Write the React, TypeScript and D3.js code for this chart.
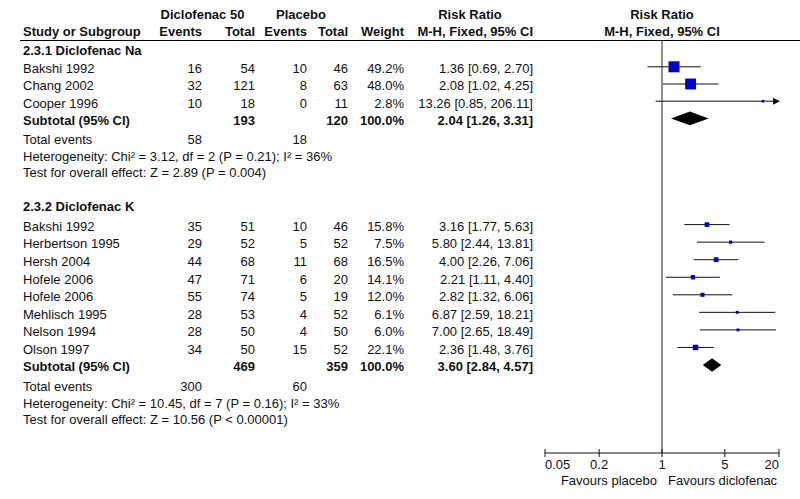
import React, { useEffect } from 'react';
import * as d3 from 'd3';

// subgroup 2.3.1 Diclofenac Na
const naStudies = ['Bakshi 1992', 'Chang 2002', 'Cooper 1996'];
const naEventsT = [16, 32, 10];
const naTotalT = [54, 121, 18];
const naEventsC = [10, 8, 0];
const naTotalC = [46, 63, 11];
const naWeight = [49.2, 48.0, 2.8];
const naRR = [1.36, 2.08, 13.26];
const naLo = [0.69, 1.02, 0.85];
const naHi = [2.70, 4.25, 206.11];

// subgroup 2.3.2 Diclofenac K
const kStudies = ['Bakshi 1992', 'Herbertson 1995', 'Hersh 2004', 'Hofele 2006', 'Hofele 2006', 'Mehlisch 1995', 'Nelson 1994', 'Olson 1997'];
const kEventsT = [35, 29, 44, 47, 55, 28, 28, 34];
const kTotalT = [51, 52, 68, 71, 74, 53, 50, 50];
const kEventsC = [10, 5, 11, 6, 5, 4, 4, 15];
const kTotalC = [46, 52, 68, 20, 19, 52, 50, 52];
const kWeight = [15.8, 7.5, 16.5, 14.1, 12.0, 6.1, 6.0, 22.1];
const kRR = [3.16, 5.80, 4.00, 2.21, 2.82, 6.87, 7.00, 2.36];
const kLo = [1.77, 2.44, 2.26, 1.11, 1.32, 2.59, 2.65, 1.48];
const kHi = [5.63, 13.81, 7.06, 4.40, 6.06, 18.21, 18.49, 3.76];

const subgroupTitles = ['2.3.1 Diclofenac Na', '2.3.2 Diclofenac K'];
const subTotalT = [193, 469];
const subTotalC = [120, 359];
const subRR = [2.04, 3.60];
const subLo = [1.26, 2.84];
const subHi = [3.31, 4.57];
const subEventsT = [58, 300];
const subEventsC = [18, 60];
const heterogeneity = [
  'Heterogeneity: Chi² = 3.12, df = 2 (P = 0.21); I² = 36%',
  'Heterogeneity: Chi² = 10.45, df = 7 (P = 0.16); I² = 33%',
];
const overallTest = [
  'Test for overall effect: Z = 2.89 (P = 0.004)',
  'Test for overall effect: Z = 10.56 (P < 0.00001)',
];

const axisTicks = [0.05, 0.2, 1, 5, 20];
const axisTickLabels = ['0.05', '0.2', '1', '5', '20'];

const FONT = '"Liberation Sans", Arial, sans-serif';

export default function App() {
  useEffect(() => {
    document.body.style.margin = '0';
  }, []);

  const x = d3.scaleLog().domain([0.05, 20]).range([545, 779]);
  // box area follows weight; the two subgroups are drawn at different scales
  const boxSize = [
    d3.scaleSqrt().domain([0, 100]).range([0, 15.7]),
    d3.scaleSqrt().domain([0, 100]).range([0, 11.7]),
  ];

  const col = { study: 23, evT: 202, totT: 255, evC: 307, totC: 348, weight: 404, rr: 533 };
  const rowStart = [66.8, 224.6];
  const rowStep = [17.2, 17.55];
  const titleBase = [55, 211];
  const footOffset = [25.8, 42.5, 58.5];
  const ty = 6.3; // text baseline below the marker row centre

  const groups = [
    { names: naStudies, evT: naEventsT, totT: naTotalT, evC: naEventsC, totC: naTotalC, w: naWeight, rr: naRR, lo: naLo, hi: naHi },
    { names: kStudies, evT: kEventsT, totT: kTotalT, evC: kEventsC, totC: kTotalC, w: kWeight, rr: kRR, lo: kLo, hi: kHi },
  ];

  const txt = (props: any, s: string | number, key?: string) => (
    <text key={key} fontFamily={FONT} fontSize={13} fill="#111" {...props}>{s}</text>
  );

  const [xmin, xmax] = x.range();

  return (
    <svg width={800} height={499} style={{ display: 'block', background: '#fff' }}>
      {/* header */}
      <g>
        {txt({ x: 202.5, y: 18.7, textAnchor: 'middle', fontWeight: 'bold' }, 'Diclofenac 50')}
        {txt({ x: 301, y: 18.7, textAnchor: 'middle', fontWeight: 'bold' }, 'Placebo')}
        {txt({ x: 470, y: 18.7, textAnchor: 'middle', fontWeight: 'bold' }, 'Risk Ratio')}
        {txt({ x: 662, y: 18.7, textAnchor: 'middle', fontWeight: 'bold' }, 'Risk Ratio')}
        {txt({ x: col.study, y: 36, fontWeight: 'bold' }, 'Study or Subgroup')}
        {txt({ x: col.evT, y: 36, textAnchor: 'end', fontWeight: 'bold' }, 'Events')}
        {txt({ x: col.totT, y: 36, textAnchor: 'end', fontWeight: 'bold' }, 'Total')}
        {txt({ x: col.evC, y: 36, textAnchor: 'end', fontWeight: 'bold' }, 'Events')}
        {txt({ x: col.totC, y: 36, textAnchor: 'end', fontWeight: 'bold' }, 'Total')}
        {txt({ x: col.weight, y: 36, textAnchor: 'end', fontWeight: 'bold' }, 'Weight')}
        {txt({ x: col.rr, y: 36, textAnchor: 'end', fontWeight: 'bold' }, 'M-H, Fixed, 95% CI')}
        {txt({ x: 662, y: 36, textAnchor: 'middle', fontWeight: 'bold' }, 'M-H, Fixed, 95% CI')}
      </g>
      <line x1={20} x2={800} y1={40.5} y2={40.5} stroke="#000" strokeWidth={1.2} />
      <line x1={x(1)} x2={x(1)} y1={40} y2={453} stroke="#222" strokeWidth={1} />

      {groups.map((g, gi) => {
        const studyY = (i: number) => rowStart[gi] + rowStep[gi] * i;
        const subY = studyY(g.names.length);
        const size = boxSize[gi];
        const xl = x(subLo[gi]);
        const xr = x(subHi[gi]);
        const xc = x(subRR[gi]);
        const dh = 6.8;
        return (
          <g key={gi}>
            {txt({ x: col.study, y: titleBase[gi], fontWeight: 'bold' }, subgroupTitles[gi])}
            {g.names.map((n, i) => {
              const cy = studyY(i);
              const by = cy + ty;
              const s = size(g.w[i]);
              const lo = Math.max(x(g.lo[i]), xmin);
              const hiClipped = g.hi[i] > 20;
              const hi = hiClipped ? xmax + 1 : x(g.hi[i]);
              return (
                <g key={i}>
                  {txt({ x: col.study, y: by }, n)}
                  {txt({ x: col.evT, y: by, textAnchor: 'end' }, g.evT[i])}
                  {txt({ x: col.totT, y: by, textAnchor: 'end' }, g.totT[i])}
                  {txt({ x: col.evC, y: by, textAnchor: 'end' }, g.evC[i])}
                  {txt({ x: col.totC, y: by, textAnchor: 'end' }, g.totC[i])}
                  {txt({ x: col.weight, y: by, textAnchor: 'end' }, g.w[i].toFixed(1) + '%')}
                  {txt({ x: col.rr, y: by, textAnchor: 'end' },
                    `${g.rr[i].toFixed(2)} [${g.lo[i].toFixed(2)}, ${g.hi[i].toFixed(2)}]`)}
                  <line x1={lo} x2={hiClipped ? hi - 6 : hi} y1={cy} y2={cy} stroke="#111" strokeWidth={1} />
                  {hiClipped && (
                    <path d={`M${hi - 7},${cy - 3.5}L${hi},${cy}L${hi - 7},${cy + 3.5}Z`} fill="#111" />
                  )}
                  <rect x={x(g.rr[i]) - s / 2} y={cy - s / 2} width={s} height={Math.max(s, 1.5)} fill="#0000c4" />
                </g>
              );
            })}
            {txt({ x: col.study, y: subY + ty, fontWeight: 'bold' }, 'Subtotal (95% CI)')}
            {txt({ x: col.totT, y: subY + ty, textAnchor: 'end', fontWeight: 'bold' }, subTotalT[gi])}
            {txt({ x: col.totC, y: subY + ty, textAnchor: 'end', fontWeight: 'bold' }, subTotalC[gi])}
            {txt({ x: col.weight, y: subY + ty, textAnchor: 'end', fontWeight: 'bold' }, '100.0%')}
            {txt({ x: col.rr, y: subY + ty, textAnchor: 'end', fontWeight: 'bold' },
              `${subRR[gi].toFixed(2)} [${subLo[gi].toFixed(2)}, ${subHi[gi].toFixed(2)}]`)}
            <path d={`M${xl},${subY}L${xc},${subY - dh}L${xr},${subY}L${xc},${subY + dh}Z`} fill="#000" />
            {txt({ x: col.study, y: subY + footOffset[0] }, 'Total events')}
            {txt({ x: col.evT, y: subY + footOffset[0], textAnchor: 'end' }, subEventsT[gi])}
            {txt({ x: col.evC, y: subY + footOffset[0], textAnchor: 'end' }, subEventsC[gi])}
            {txt({ x: col.study, y: subY + footOffset[1] }, heterogeneity[gi])}
            {txt({ x: col.study, y: subY + footOffset[2] }, overallTest[gi])}
          </g>
        );
      })}

      {/* axis */}
      <g>
        <line x1={xmin} x2={xmax} y1={453} y2={453} stroke="#111" strokeWidth={1} />
        {axisTicks.map((t, i) => (
          <g key={t}>
            <line x1={x(t)} x2={x(t)} y1={449} y2={457} stroke="#111" strokeWidth={1} />
            {txt({
              x: x(t), y: 468.5,
              textAnchor: i === 0 ? 'start' : i === axisTicks.length - 1 ? 'end' : 'middle',
            }, axisTickLabels[i], 'l' + i)}
          </g>
        ))}
        {txt({ x: 657, y: 485, textAnchor: 'end' }, 'Favours placebo')}
        {txt({ x: 668, y: 485 }, 'Favours diclofenac')}
      </g>
    </svg>
  );
}
